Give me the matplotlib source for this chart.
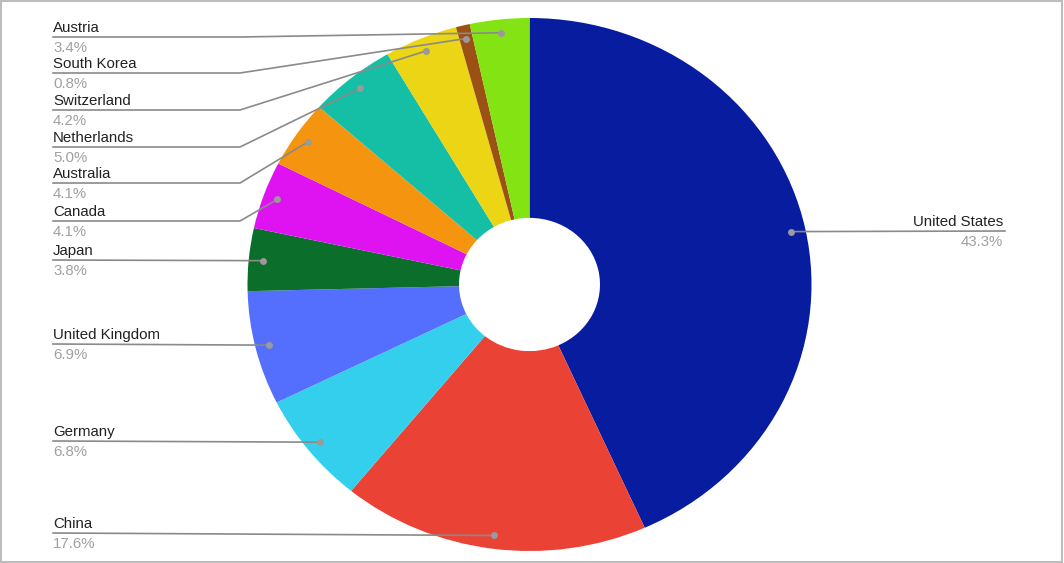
import numpy as np
import matplotlib
matplotlib.use("Agg")
import matplotlib.pyplot as plt
from matplotlib.patches import Rectangle

categories = ["United States", "China", "Germany", "United Kingdom", "Japan", "Canada",
              "Australia", "Netherlands", "Switzerland", "South Korea", "Austria"]
values = [43.3, 17.6, 6.8, 6.9, 3.8, 4.1, 4.1, 5.0, 4.2, 0.8, 3.4]
pct_labels = ["43.3%", "17.6%", "6.8%", "6.9%", "3.8%", "4.1%", "4.1%", "5.0%", "4.2%", "0.8%", "3.4%"]
colors = ["#071C9E", "#EA4335", "#35CFEE", "#546FFE", "#0B6E2A", "#DF12F2",
          "#F5940F", "#14BFA5", "#EBD515", "#9B5014", "#84E312"]

# layout (pixels)
W, H = 1064, 563
CX, CY, RX, RY = 529.5, 284.5, 282.0, 266.5
label_line_y = {"United States": 231, "China": 533, "Germany": 441, "United Kingdom": 344,
                "Japan": 260, "Canada": 221, "Australia": 183, "Netherlands": 147,
                "Switzerland": 110, "South Korea": 73, "Austria": 37}

plt.rcParams['font.family'] = ['Liberation Sans', 'DejaVu Sans']
fig = plt.figure(figsize=(W / 100, H / 100), dpi=100)
ax = fig.add_axes([0, 0, 1, 1])

wedges, _ = ax.pie(values, colors=colors, startangle=90, counterclock=False,
                   radius=1.0, wedgeprops=dict(width=0.75, linewidth=0))
ax.set_aspect('auto')
ax.set_xlim(-CX / RX, (W - CX) / RX)
ax.set_ylim(-(H - CY) / RY, CY / RY)
ax.axis('off')


def px(x, y):
    return (x - CX) / RX, (CY - y) / RY


FS = 10.8
line_color = "#8a8a8a"
for w, name, pct in zip(wedges, categories, pct_labels):
    th = np.deg2rad((w.theta1 + w.theta2) / 2)
    dx, dy = 0.95 * np.cos(th), 0.95 * np.sin(th)
    ly = label_line_y[name]
    if dx > 0:
        x_end = 1005
        xs = [dx, px(x_end, ly)[0]]
        ys = [dy, px(0, ly)[1]]
        ax.plot(xs, ys, color=line_color, lw=1.2, zorder=3)
        ax.text(*px(1003, ly - 5), name, ha='right', va='baseline', fontsize=FS, color='#222222')
        ax.text(*px(1003, ly + 15), pct, ha='right', va='baseline', fontsize=FS, color='#a0a0a0')
    else:
        dot_py = CY - dy * RY
        x0 = px(53, ly)
        if abs(dot_py - ly) < 4:
            xs = [x0[0], dx]
            ys = [x0[1], dy]
        else:
            e = px(240, ly)
            xs = [x0[0], e[0], dx]
            ys = [x0[1], e[1], dy]
        ax.plot(xs, ys, color=line_color, lw=1.2, zorder=3)
        ax.text(*px(53, ly - 5), name, ha='left', va='baseline', fontsize=FS, color='#222222')
        ax.text(*px(53, ly + 15), pct, ha='left', va='baseline', fontsize=FS, color='#a0a0a0')
    ax.plot([dx], [dy], 'o', color='#9a9a9a', ms=5, mec='none', zorder=4)

fig.patches.append(Rectangle((0.5 / W, 1.5 / H), (W - 2.5) / W, (H - 2.5) / H,
                             transform=fig.transFigure, fill=False,
                             edgecolor='#bdbdbd', lw=1.5))
fig.savefig("out.png", dpi=100, facecolor='white')
